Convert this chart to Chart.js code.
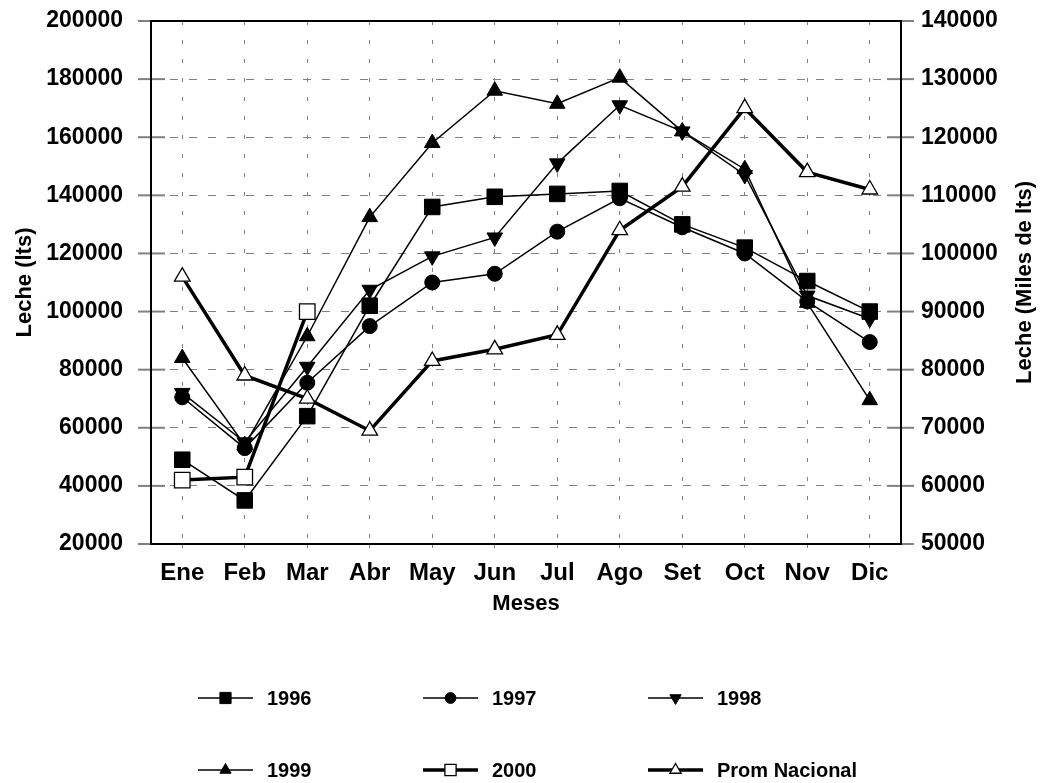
<!DOCTYPE html>
<html>
<head>
<meta charset="utf-8">
<script src="https://cdn.jsdelivr.net/npm/chart.js@4/dist/chart.umd.min.js"></script>
<style>
  html, body { margin: 0; padding: 0; background: #fff; }
  #wrap { width: 1047px; height: 783px; }
</style>
</head>
<body>
<div id="wrap"><canvas id="leche_chart" width="1047" height="783"></canvas></div>
<script>
// DATA
const meses = ['Ene', 'Feb', 'Mar', 'Abr', 'May', 'Jun', 'Jul', 'Ago', 'Set', 'Oct', 'Nov', 'Dic'];
const leche_1996 = [49000, 35000, 64000, 102000, 136000, 139500, 140500, 141500, 130000, 122000, 110500, 100000];
const leche_1997 = [70500, 53000, 75500, 95000, 110000, 113000, 127500, 139000, 129000, 120000, 103500, 89500];
const leche_1998 = [72000, 55000, 81000, 107500, 119000, 125500, 151000, 171000, 162000, 147000, 105500, 97500];
const leche_1999 = [84000, 54000, 91500, 132500, 158000, 176000, 171500, 180500, 162000, 149000, 103000, 69500];
const leche_2000 = [42000, 43000, 100000, null, null, null, null, null, null, null, null, null];
const prom_nacional = [96000, 79000, 75000, 69500, 81500, 83500, 86000, 104000, 111500, 125000, 114000, 111000];

const FONT = '"Liberation Sans", Arial, sans-serif';
const GRID = '#808080';

// marker drawing for the legend
function drawMarker(ctx, style, rotation, r, x, y) {
  ctx.beginPath();
  if (style === 'rect') {
    let s = Math.SQRT1_2 * r;
    ctx.rect(x - s, y - s, 2 * s, 2 * s);
  } else if (style === 'circle') {
    ctx.arc(x, y, r, 0, Math.PI * 2);
  } else {
    let rad = (rotation || 0) * Math.PI / 180;
    ctx.moveTo(x + Math.sin(rad) * r, y - Math.cos(rad) * r);
    rad += Math.PI * 2 / 3;
    ctx.lineTo(x + Math.sin(rad) * r, y - Math.cos(rad) * r);
    rad += Math.PI * 2 / 3;
    ctx.lineTo(x + Math.sin(rad) * r, y - Math.cos(rad) * r);
    ctx.closePath();
  }
  ctx.fill();
  ctx.stroke();
}

// box round the plot, tick stubs on both y axes, right axis title (reads upward like the left one)
const frame_plugin = {
  id: 'frame',
  afterDraw(chart) {
    const ctx = chart.ctx;
    const a = chart.chartArea;
    ctx.save();
    ctx.strokeStyle = GRID;
    ctx.lineWidth = 2;
    chart.scales.y.ticks.forEach(t => {
      let py = chart.scales.y.getPixelForValue(t.value);
      let major = t.value % 20000 === 0;
      ctx.beginPath();
      ctx.moveTo(a.left - (major ? 13 : 9), py);
      ctx.lineTo(a.left + (major ? 14 : 10), py);
      ctx.stroke();
    });
    chart.scales.y2.ticks.forEach(t => {
      let py = chart.scales.y2.getPixelForValue(t.value);
      let major = t.value % 10000 === 0;
      ctx.beginPath();
      ctx.moveTo(a.right - (major ? 14 : 10), py);
      ctx.lineTo(a.right + (major ? 13 : 9), py);
      ctx.stroke();
    });
    ctx.strokeStyle = '#000';
    ctx.lineWidth = 2;
    ctx.strokeRect(a.left, a.top, a.right - a.left, a.bottom - a.top);

    ctx.translate(chart.width - 22, (a.top + a.bottom) / 2);
    ctx.rotate(-Math.PI / 2);
    ctx.fillStyle = '#000';
    ctx.font = 'bold 22px ' + FONT;
    ctx.textAlign = 'center';
    ctx.textBaseline = 'middle';
    ctx.fillText('Leche (Miles de lts)', 0, 0);
    ctx.restore();
  }
};

// legend in a 3 column grid under the chart
const legend_plugin = {
  id: 'gridLegend',
  afterDraw(chart) {
    const ctx = chart.ctx;
    ctx.save();
    chart.data.datasets.forEach((ds, i) => {
      let col = i % 3, row = Math.floor(i / 3);
      let x0 = 198 + col * 225;
      let y = 698 + row * 72;
      ctx.strokeStyle = '#000';
      ctx.lineWidth = ds.borderWidth;
      ctx.beginPath();
      ctx.moveTo(x0, y);
      ctx.lineTo(x0 + 55, y);
      ctx.stroke();
      ctx.fillStyle = ds.pointBackgroundColor;
      ctx.lineWidth = ds.pointBorderWidth;
      drawMarker(ctx, ds.pointStyle, ds.pointRotation, ds.pointRadius * 0.72, x0 + 27.5, y);
      ctx.fillStyle = '#000';
      ctx.font = 'bold 20px ' + FONT;
      ctx.textBaseline = 'middle';
      ctx.textAlign = 'left';
      ctx.fillText(ds.label, x0 + 69, y + 1);
    });
    ctx.restore();
  }
};

function serie(label, values, style, radius, filled, thick, axis, rotation) {
  return {
    label: label,
    data: values,
    yAxisID: axis,
    borderColor: '#000',
    backgroundColor: '#000',
    borderWidth: thick ? 3.5 : 1.5,
    pointStyle: style,
    pointRotation: rotation || 0,
    pointRadius: radius,
    pointHoverRadius: radius,
    pointBackgroundColor: filled ? '#000' : '#fff',
    pointBorderColor: '#000',
    pointBorderWidth: filled ? 1 : 1.3,
    tension: 0,
    spanGaps: false
  };
}

// the tick padding must not push the plot down
function noVerticalPadding(scale) {
  scale.paddingTop = 0;
  scale.paddingBottom = 0;
}

const data = {
  labels: meses,
  datasets: [
    serie('1996', leche_1996, 'rect', 11, true, false, 'y'),
    serie('1997', leche_1997, 'circle', 7.5, true, false, 'y'),
    serie('1998', leche_1998, 'triangle', 9, true, false, 'y', 180),
    serie('1999', leche_1999, 'triangle', 9, true, false, 'y'),
    serie('2000', leche_2000, 'rect', 11, false, true, 'y'),
    serie('Prom Nacional', prom_nacional, 'triangle', 9, false, true, 'y2')
  ]
};

const config = {
  type: 'line',
  data: data,
  options: {
    responsive: false,
    animation: false,
    layout: { padding: { top: 21, bottom: 158, left: 0, right: 0 } },
    plugins: { legend: { display: false }, tooltip: { enabled: false } },
    scales: {
      x: {
        offset: true,
        grid: {
          color: GRID,
          lineWidth: 1,
          tickLength: 10,
          tickColor: GRID,
          tickBorderDash: [4, 15]
        },
        border: { display: false, dash: [4, 15] },
        ticks: {
          color: '#000',
          font: { family: FONT, size: 24, weight: 'bold' },
          padding: 5,
          maxRotation: 0,
          autoSkip: false
        },
        title: {
          display: true,
          text: 'Meses',
          color: '#000',
          font: { family: FONT, size: 22, weight: 'bold' },
          padding: { top: 0, bottom: 8 }
        },
        afterFit(scale) { scale.height = 81; }
      },
      y: {
        position: 'left',
        min: 20000,
        max: 200000,
        grid: {
          color: ctx => (ctx.tick && ctx.tick.value % 20000 === 0) ? GRID : 'rgba(0,0,0,0)',
          lineWidth: 1,
          drawTicks: false
        },
        border: { display: false, dash: [8, 11] },
        ticks: {
          stepSize: 10000,
          color: '#000',
          font: { family: FONT, size: 23, weight: 'bold' },
          padding: 28,
          callback: v => v % 20000 === 0 ? String(v) : ''
        },
        title: {
          display: true,
          text: 'Leche (lts)',
          color: '#000',
          font: { family: FONT, size: 22, weight: 'bold' },
          padding: { top: 12, bottom: 0 }
        },
        afterFit(scale) { scale.width = 151; noVerticalPadding(scale); }
      },
      y2: {
        position: 'right',
        min: 50000,
        max: 140000,
        grid: { drawOnChartArea: false, drawTicks: false },
        border: { display: false },
        ticks: {
          stepSize: 5000,
          color: '#000',
          font: { family: FONT, size: 23, weight: 'bold' },
          padding: 20,
          callback: v => v % 10000 === 0 ? String(v) : ''
        },
        title: { display: false },
        afterFit(scale) { scale.width = 146; noVerticalPadding(scale); }
      }
    }
  },
  plugins: [frame_plugin, legend_plugin]
};

var myChart = new Chart(document.getElementById('leche_chart'), config);
</script>
</body>
</html>
